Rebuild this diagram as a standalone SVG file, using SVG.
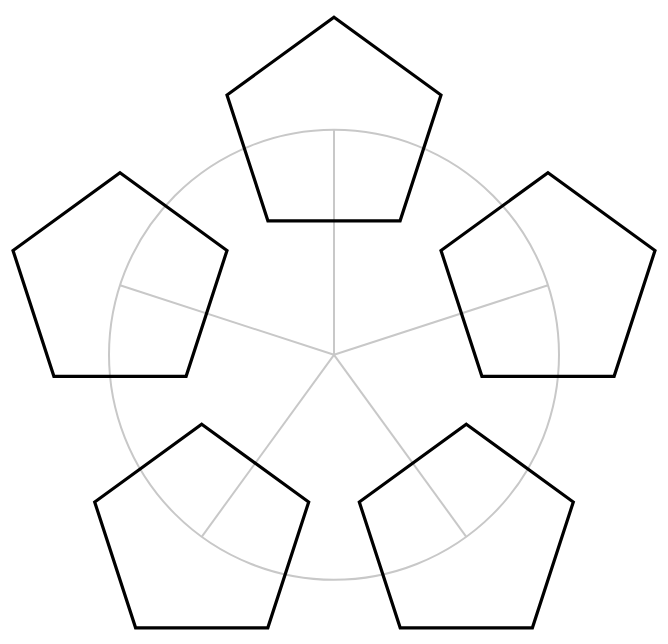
<svg xmlns="http://www.w3.org/2000/svg" xmlns:xlink="http://www.w3.org/1999/xlink" width="668" height="644" viewBox="0 0 668 644">
<style>
.guide{fill:none;stroke:#c8c8c8;stroke-width:2}
.pent{fill:none;stroke:#000;stroke-width:3.2;stroke-linejoin:miter}
</style>
<defs>
<polygon id="p" points="0,-112.5 107,-34.8 66.1,91 -66.1,91 -107,-34.8"/>
</defs>
<rect width="668" height="644" fill="#fff"/>
<g id="connectors" class="guide">
<circle cx="334" cy="354.8" r="225"/>
<line x1="334" y1="354.8" x2="334" y2="129.8"/>
<line x1="334" y1="354.8" x2="548" y2="285.3"/>
<line x1="334" y1="354.8" x2="466.3" y2="536.8"/>
<line x1="334" y1="354.8" x2="201.7" y2="536.8"/>
<line x1="334" y1="354.8" x2="120" y2="285.3"/>
</g>
<g id="pent-top"><use xlink:href="#p" class="pent" transform="translate(334,129.8)"/></g>
<g id="pent-right"><use xlink:href="#p" class="pent" transform="translate(548,285.3)"/></g>
<g id="pent-bottom-right"><use xlink:href="#p" class="pent" transform="translate(466.3,536.8)"/></g>
<g id="pent-bottom-left"><use xlink:href="#p" class="pent" transform="translate(201.7,536.8)"/></g>
<g id="pent-left"><use xlink:href="#p" class="pent" transform="translate(120,285.3)"/></g>
</svg>
